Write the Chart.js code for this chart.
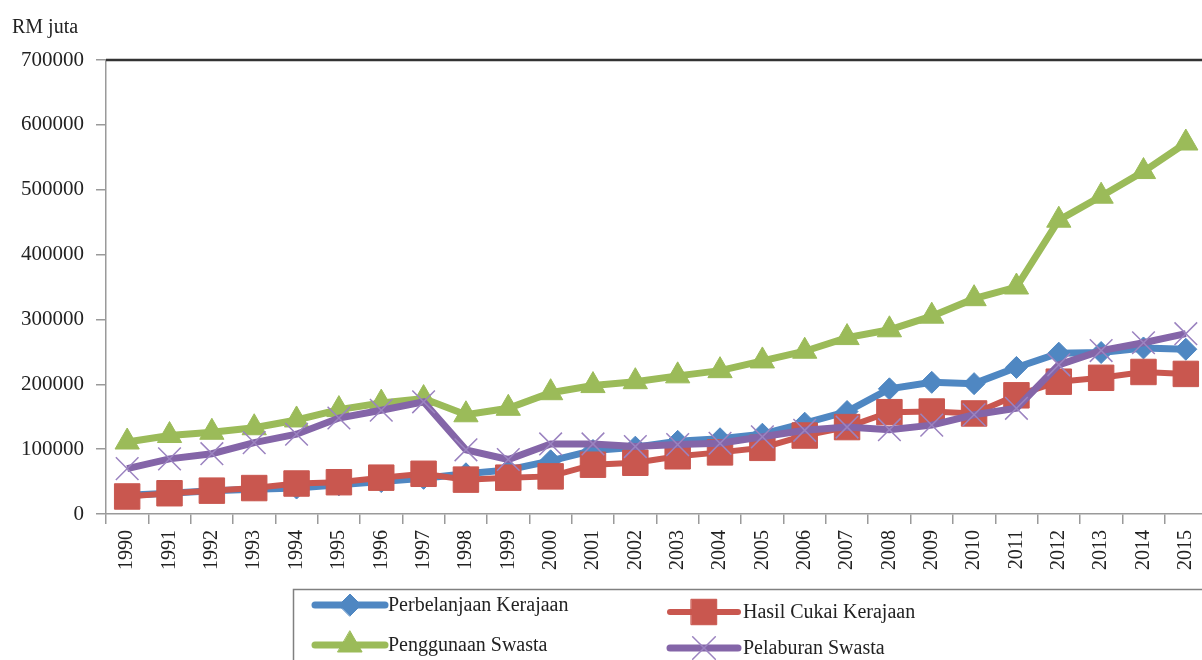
<!DOCTYPE html>
<html>
<head>
<meta charset="utf-8">
<script src="https://cdn.jsdelivr.net/npm/chart.js@4.4.1/dist/chart.umd.min.js"></script>
<style>
  html, body { margin: 0; padding: 0; background: #fff; overflow: hidden; width: 1202px; height: 660px; }
  #wrap { position: absolute; left: 0; top: 0; width: 1226px; height: 660px; }
</style>
</head>
<body>
<div id="wrap"><canvas id="c"></canvas></div>
<script>
const years = ['1990','1991','1992','1993','1994','1995','1996','1997','1998','1999','2000','2001','2002','2003','2004','2005','2006','2007','2008','2009','2010','2011','2012','2013','2014','2015'];
const perbelanjaanKerajaan = [29000,32000,36000,38000,40000,45000,50000,55000,62000,68000,82000,98000,103000,112000,116000,123000,140000,158000,193000,203000,201000,226000,248000,249000,256000,254000];
const hasilCukaiKerajaan = [27000,32000,36000,40000,47000,49000,56000,62000,53000,56000,58000,76000,79000,89000,95000,102000,121000,134000,157000,158000,155000,183000,204000,210000,219000,216000];
const penggunaanSwasta = [111000,121000,126000,133000,145000,161000,171000,178000,153000,163000,187000,198000,204000,213000,221000,236000,251000,272000,284000,305000,332000,350000,453000,490000,528000,572000];
const pelaburanSwasta = [70000,85000,93000,110000,123000,148000,160000,173000,99000,84000,108000,108000,104000,107000,109000,119000,129000,134000,130000,137000,153000,163000,230000,252000,264000,278000];
const yTicks = [0,100000,200000,300000,400000,500000,600000,700000];
const seriesNames = ['Perbelanjaan Kerajaan','Hasil Cukai Kerajaan','Penggunaan Swasta','Pelaburan Swasta'];
const yUnit = 'RM juta';

const FONT = '"Liberation Serif", "Times New Roman", serif';
const C_BLUE = '#4F87C2', C_RED = '#C9574F', C_GREEN = '#9BBB59', C_PURPLE = '#8465A8', C_PURPLE_X = '#9B83C0';

const datasets = [
  { label: seriesNames[0], data: perbelanjaanKerajaan, borderColor: C_BLUE, backgroundColor: C_BLUE,
    borderWidth: 7, pointStyle: 'rectRot', pointRadius: 11, pointBorderWidth: 1, order: 4 },
  { label: seriesNames[1], data: hasilCukaiKerajaan, borderColor: C_RED, backgroundColor: C_RED,
    borderWidth: 6, pointStyle: 'rect', pointRadius: 18, pointBorderWidth: 1, order: 3 },
  { label: seriesNames[2], data: penggunaanSwasta, borderColor: C_GREEN, backgroundColor: C_GREEN,
    borderWidth: 7, pointStyle: 'triangle', pointRadius: 14, pointBorderWidth: 1, order: 2 },
  { label: seriesNames[3], data: pelaburanSwasta, borderColor: C_PURPLE, backgroundColor: C_PURPLE,
    pointBorderColor: C_PURPLE_X, borderWidth: 7, pointStyle: 'crossRot', pointRadius: 16, pointBorderWidth: 1.5, order: 1 }
];

const extras = {
  id: 'extras',
  afterDraw(chart) {
    const ctx = chart.ctx;
    const a = chart.chartArea;
    ctx.save();
    ctx.strokeStyle = '#333';
    ctx.lineWidth = 2.5;
    ctx.beginPath();
    ctx.moveTo(a.left, a.top);
    ctx.lineTo(chart.width, a.top);
    ctx.stroke();
    ctx.fillStyle = '#222';
    ctx.font = '20px ' + FONT;
    ctx.textBaseline = 'middle';
    ctx.textAlign = 'left';
    ctx.fillText(yUnit, 12, 28);
    ctx.strokeStyle = '#808080';
    ctx.lineWidth = 1.5;
    ctx.strokeRect(293.5, 589.5, 1000, 200);
    const items = [
      { ds: 0, x1: 315, x2: 385, y: 605, tx: 388 },
      { ds: 1, x1: 670, x2: 738, y: 612, tx: 743 },
      { ds: 2, x1: 315, x2: 385, y: 645, tx: 388 },
      { ds: 3, x1: 670, x2: 738, y: 648, tx: 743 }
    ];
    items.forEach(it => {
      const d = chart.data.datasets[it.ds];
      ctx.strokeStyle = d.borderColor;
      ctx.lineWidth = d.borderWidth;
      ctx.lineCap = 'round';
      ctx.beginPath();
      ctx.moveTo(it.x1, it.y);
      ctx.lineTo(it.x2, it.y);
      ctx.stroke();
      ctx.fillStyle = d.backgroundColor;
      ctx.strokeStyle = d.pointBorderColor || d.borderColor;
      ctx.lineWidth = d.pointBorderWidth;
      Chart.helpers.drawPoint(ctx, { pointStyle: d.pointStyle, radius: d.pointRadius, rotation: 0, borderWidth: d.pointBorderWidth },
        (it.x1 + it.x2) / 2, it.y);
      ctx.fillStyle = '#222';
      ctx.font = '20px ' + FONT;
      ctx.textBaseline = 'middle';
      ctx.textAlign = 'left';
      ctx.fillText(d.label, it.tx, it.y + 1);
    });
    ctx.restore();
  }
};

new Chart(document.getElementById('c'), {
  type: 'line',
  data: { labels: years, datasets },
  options: {
    responsive: true,
    maintainAspectRatio: false,
    animation: false,
    layout: { padding: { top: 60, left: 0, right: 2, bottom: 0 } },
    elements: { line: { tension: 0 } },
    plugins: { legend: { display: false }, tooltip: { enabled: false } },
    scales: {
      x: {
        offset: true,
        grid: { offset: true, drawOnChartArea: false, tickLength: 10, color: '#9a9a9a', lineWidth: 1.5 },
        border: { color: '#9a9a9a', width: 1.5 },
        ticks: { autoSkip: false, minRotation: 90, maxRotation: 90, padding: 6, color: '#222', font: { family: FONT, size: 20 } },
        afterFit(s) { s.height = 146; }
      },
      y: {
        min: 0, max: 700000,
        afterBuildTicks(s) { s.ticks = yTicks.map(v => ({ value: v })); },
        grid: { drawOnChartArea: false, tickLength: 10, color: '#9a9a9a', lineWidth: 1.5 },
        border: { color: '#9a9a9a', width: 1.5 },
        ticks: { padding: 12, color: '#222', font: { family: FONT, size: 21 }, callback: v => String(v) },
        afterFit(s) { s.width = 106; }
      }
    }
  },
  plugins: [extras]
});
</script>
</body>
</html>
